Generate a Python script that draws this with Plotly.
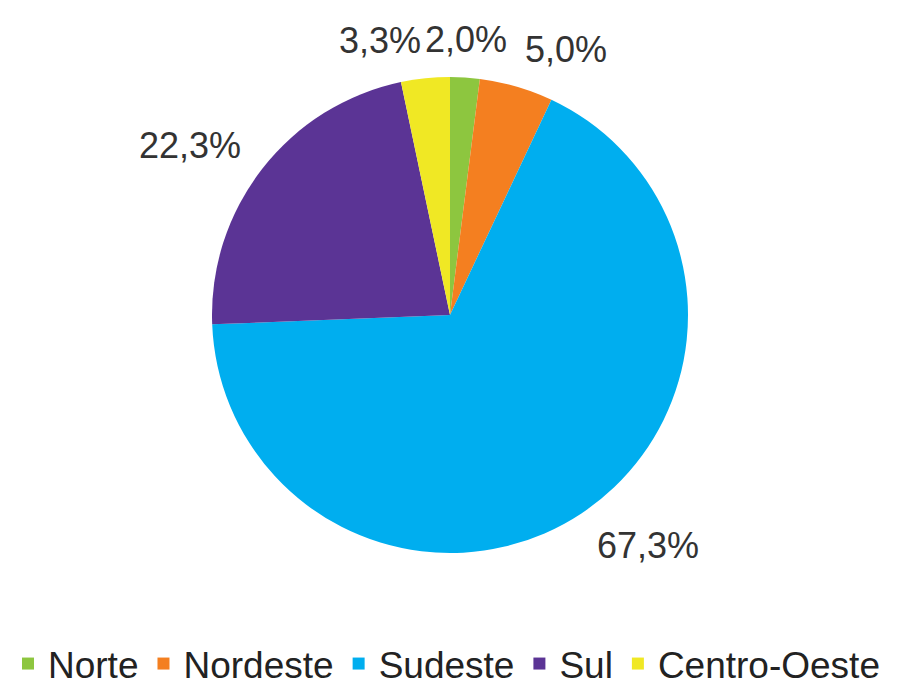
import math
import plotly.graph_objects as go

regions = ["Norte", "Nordeste", "Sudeste", "Sul", "Centro-Oeste"]
shares = [2.0, 5.0, 67.3, 22.3, 3.3]
colors = ["#8DC63F", "#F47F20", "#00AEEF", "#5B3495", "#F0E824"]

W, H = 909, 687
# pie geometry in figure pixels (page adds an 8px body margin)
cx, cy, r = 442, 307, 238
gap = 24
half_text_h = 14

fig = go.Figure(go.Pie(
    labels=regions,
    values=shares,
    sort=False,
    direction="clockwise",
    rotation=0,
    marker=dict(colors=colors, line=dict(width=0)),
    textinfo="none",
    hoverinfo="label+percent",
    domain=dict(x=[(cx - r) / W, (cx + r) / W], y=[1 - (cy + r) / H, 1 - (cy - r) / H]),
))

total = sum(shares)
cum = 0.0
for v in shares:
    mid = (cum + v / 2) / total * 2 * math.pi
    cum += v
    s, c = math.sin(mid), math.cos(mid)
    px = cx + s * (r + gap)
    py = cy - c * (r + gap) - c * half_text_h
    if abs(s) < 0.1:
        xa = "center"
    else:
        xa = "left" if s > 0 else "right"
    fig.add_annotation(
        x=px / W, y=1 - py / H, xref="paper", yref="paper",
        text=f"{v:.1f}%".replace(".", ","),
        showarrow=False, xanchor=xa, yanchor="middle",
        font=dict(family="Liberation Sans, Arial, sans-serif", size=36, color="#333333"),
    )

fig.update_layout(
    width=W, height=H,
    margin=dict(l=0, r=0, t=0, b=0),
    paper_bgcolor="white",
    plot_bgcolor="white",
    font=dict(family="Liberation Sans, Arial, sans-serif", color="#333333"),
    legend=dict(
        orientation="h",
        x=0.0, xanchor="left",
        y=0.0, yanchor="bottom",
        font=dict(size=37, color="#222222"),
        itemclick=False,
    ),
)

fig.write_html("out.html")
